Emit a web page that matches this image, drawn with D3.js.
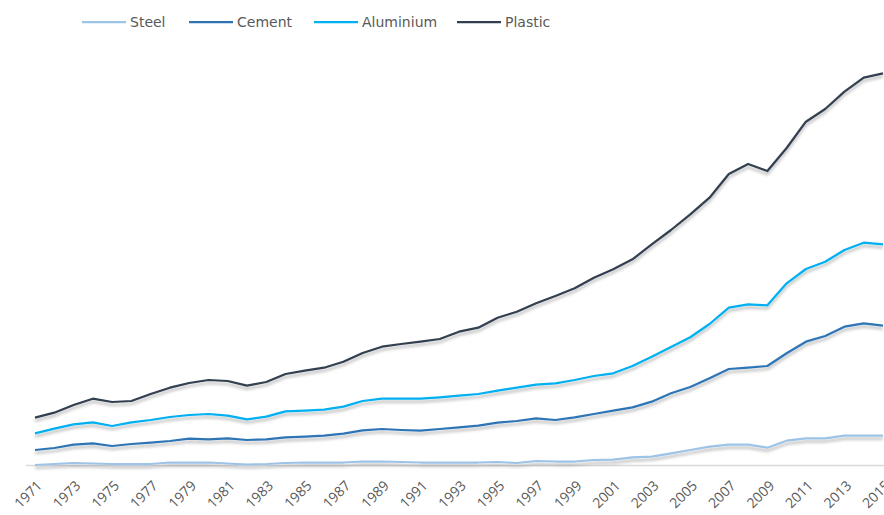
<!DOCTYPE html>
<html lang="en">
<head>
<meta charset="UTF-8">
<title>Material production index</title>
<script src="https://cdn.jsdelivr.net/npm/d3@7"></script>
<style>
  body { margin: 0; background: #fff; }
  svg { display: block; }
</style>
</head>
<body>
<script>

// data (index units, no y axis shown)
var years = d3.range(1971, 2016);
var tickYears = d3.range(1971, 2016, 2);

var steel = [0, 1, 2, 1.5, 1, 1, 1, 2.5, 2.5, 2.5,
  1.5, 0.5, 1, 2, 2.5, 2.5, 2.5, 3.5, 3.5, 3,
  2.5, 2.5, 2.5, 2.5, 3, 2, 4, 3.5, 3.5, 5,
  5.3, 7.7, 8.3, 11.7, 15, 18.3, 20.3, 20.3, 17.3, 24.3,
  26.7, 26.7, 29.3, 29.3, 29.3];

var cement = [15, 17, 20.3, 21.7, 19, 21, 22.3, 24, 26.3, 25.7,
  26.7, 25, 25.7, 27.7, 28.3, 29.3, 31.3, 34.7, 36, 35,
  34.3, 36, 37.7, 39.3, 42.3, 44, 46.7, 45, 47.7, 51,
  54.3, 57.7, 63.3, 71.7, 78, 86.7, 96, 97.3, 99, 111.7,
  123.3, 129, 138.3, 141.7, 139.3];

var aluminium = [31.7, 36.3, 40.7, 42.7, 39, 42.7, 45, 48, 50, 51,
  49.3, 45.7, 48.3, 53.7, 54.3, 55.3, 58.3, 64, 66.3, 66.3,
  66.3, 67.7, 69.3, 71, 74.3, 77.3, 80.3, 81.7, 85, 89,
  91.7, 99, 108.3, 118, 127.7, 141, 157.3, 160.7, 159.7, 181.7,
  196, 203.3, 215, 222.3, 220.7];

var plastic = [47.3, 52.3, 60, 66.3, 63, 64, 71, 77.3, 82, 85,
  84, 79.3, 83, 91, 94.3, 97.3, 103.3, 112, 118.3, 121,
  123.3, 126, 133.3, 137.3, 147.3, 153.3, 161.7, 169, 176.7, 187.3,
  195.7, 205.7, 220.7, 235, 250.7, 267.3, 291, 301, 294, 317,
  343.3, 356, 373.3, 387.3, 391.7];

var seriesNames = ["Steel", "Cement", "Aluminium", "Plastic"];
var seriesColors = ["#9dc3e6", "#2e75b6", "#00b0f0", "#333f50"];
var seriesValues = [steel, cement, aluminium, plastic];

var width = 884, height = 515;

var svg = d3.select("body").append("svg")
    .attr("width", width)
    .attr("height", height);

// soft shadow under the lines
var filter = svg.append("defs").append("filter")
    .attr("id", "shadow")
    .attr("x", "-5%").attr("y", "-20%")
    .attr("width", "110%").attr("height", "140%");
filter.append("feDropShadow")
    .attr("dx", 0).attr("dy", 3)
    .attr("stdDeviation", 1.8)
    .attr("flood-color", "#000")
    .attr("flood-opacity", 0.28);

var x = d3.scaleLinear().domain([1971, 2015]).range([35, 883]);
var y = d3.scaleLinear().domain([0, 400]).range([465, 65]);

// x axis: only baseline and rotated labels
var xAxis = d3.axisBottom(x)
    .tickValues(tickYears)
    .tickFormat(d3.format("d"))
    .tickSize(0);

var ax = svg.append("g")
    .attr("transform", "translate(0," + y(0) + ")")
    .call(xAxis);

ax.select(".domain").remove();
ax.selectAll("text")
    .attr("font-family", "'Open Sans', sans-serif")
    .attr("font-size", 14)
    .attr("fill", "#595959")
    .attr("text-anchor", "end")
    .attr("dy", "0.35em")
    .attr("y", 0)
    .attr("transform", "translate(4,18) rotate(-45)");

svg.append("line")
    .attr("x1", 26).attr("x2", width)
    .attr("y1", y(0) + 0.5).attr("y2", y(0) + 0.5)
    .attr("stroke", "#d9d9d9")
    .attr("stroke-width", 1.5);

var line = d3.line()
    .x(function(d, i) { return x(years[i]); })
    .y(function(d) { return y(d); });

svg.append("g").selectAll("path")
    .data(seriesValues)
    .enter()
    .append("path")
    .attr("d", line)
    .attr("fill", "none")
    .attr("stroke", function(d, i) { return seriesColors[i]; })
    .attr("stroke-width", 2.25)
    .attr("stroke-linejoin", "round")
    .attr("filter", "url(#shadow)");

// legend
var legendX = [82, 189, 314, 457];
var legend = svg.append("g").selectAll("g")
    .data(seriesNames)
    .enter()
    .append("g")
    .attr("transform", function(d, i) { return "translate(" + legendX[i] + ",22)"; });

legend.append("line")
    .attr("x1", 0).attr("x2", 44)
    .attr("stroke", function(d, i) { return seriesColors[i]; })
    .attr("stroke-width", 2.25);

legend.append("text")
    .attr("x", 48)
    .attr("dy", "0.35em")
    .attr("font-family", "'DejaVu Sans', sans-serif")
    .attr("font-size", 14)
    .attr("fill", "#595959")
    .text(function(d) { return d; });

</script>
</body>
</html>
